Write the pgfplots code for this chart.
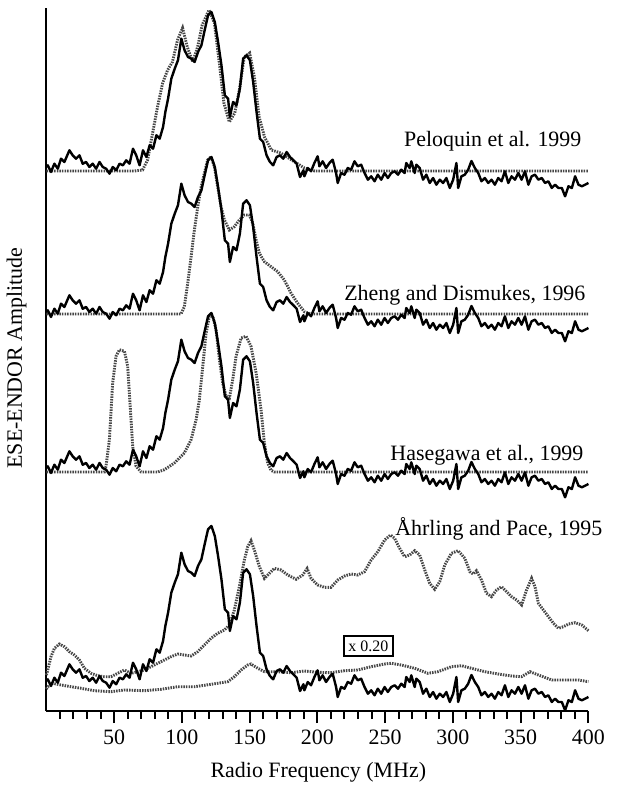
\documentclass[border=0pt]{standalone}
\usepackage{fontspec}
\setmainfont{Liberation Serif}
\usepackage{pgfplots}
\pgfplotsset{compat=1.18}
\usepackage{pgfplotstable}

% experimental ENDOR trace, height above the simulation baseline
\pgfplotstableread{
f h
0 4
1 5.7
3.4 -1
5.9 7.3
8.4 2.3
10.8 12.3
13.3 9
17 20.7
19.4 15.7
21.9 12.3
24.4 15.7
26.8 7.3
29.3 9
31.7 4
34.2 7.3
36.7 2.3
39.2 9
41.6 4
44.1 2.3
46.6 -2.7
49 4
51.5 0.7
54 7.3
56.5 5.7
58.9 10.7
61.4 7.3
63.9 22.3
66.3 15.7
68.8 5.7
71.3 20.7
73.8 14
76.2 25.7
78.7 22.3
81.2 35.7
83.6 32.3
86.1 44
87.8 59
89.8 72.3
92.2 92.3
94.7 102.3
97.1 110.7
99.6 132.3
102 120.7
104.5 114
107 112.3
109.4 109
111.9 119
114.4 125.7
116.8 140.7
119.3 155.7
121.8 159
124.3 149
126.7 129
129.2 105.7
131.7 75.7
134.1 72.3
135.4 54
137.8 69
140.3 65.7
142.8 82.3
145.2 112.3
147.7 115.7
150.2 110.7
152.6 89
155.1 59
157.6 32.3
160 29
162.5 15.7
165 9
167.4 5.7
169.9 14
172.4 15.7
174.8 12.3
177.3 19
179.8 14
182.3 10.7
184.7 7.3
187.2 -6
189.7 0.7
190.4 -5.3
192.9 3
195.3 -0.3
197.8 8
200.2 14.7
201.5 4.7
203.9 9.7
206.4 3
208.9 8
211.3 11.3
213.8 -2
215 -12
217.5 -2
220 -3.7
222.4 3
224.9 1.3
227.4 9.7
229.8 4.7
232.3 6.3
234.8 -2
237.3 -8.7
239.7 -5.3
242.2 -10.3
244.6 -3.7
247.1 -8.7
249.6 -2
252 -7
254.5 -2
257 -0.3
259.5 -3.7
261.9 1.3
264.4 -2
265.6 8
268.1 3
269.3 9.7
271.8 -2
273 6.3
275.5 3
278 -8.7
280.4 -3.7
282.9 -12
285.4 -7
287.8 -13.7
290.3 -8.7
292.8 -12
295.2 -7
297.7 -17
300.2 -8.7
302.6 8
303.9 -17
306.3 -5.3
308.8 -3.7
311.3 1.3
313.7 10
316.2 3
318.7 -2
321.1 -10.3
323.6 -7
326.1 -12
328.5 -8.7
331 -13.7
333.5 -7
335.9 -10.3
338.4 -0.3
340.9 -12
343.3 -5.3
345.8 -8.7
348.3 -2
350.7 -8.7
353.2 -0.3
355.7 -13.7
358.1 -5.3
360.6 -3.7
363.1 -8.7
365.6 -7
368 -12
370.5 -10.3
373 -17
375.4 -13.7
377.9 -17
380.4 -17
382.8 -25.3
385.3 -15.3
387.8 -17
390.2 -5.3
392.7 -13.7
395.2 -15.3
397.6 -13.7
400 -12
}\expdata

\begin{document}
\begin{tikzpicture}
\begin{axis}[
    scale only axis,
    width=271bp, height=351.5bp,
    xmin=0, xmax=400, ymin=0, ymax=703,
    axis x line*=bottom, axis y line*=left,
    axis line style={line width=1bp},
    xtick={50,100,...,400},
    minor xtick={10,20,...,390},
    ytick=\empty,
    tick align=outside,
    major tick length=6bp, minor tick length=4bp,
    every tick/.style={black, line width=1bp},
    ticklabel style={font=\fontsize{11}{13}\selectfont},
    /pgf/number format/assume math mode=true,
    xlabel={Radio Frequency (MHz)},
    xlabel style={at={(axis cs:200.7,-66)}, anchor=base, font=\fontsize{11}{13}\selectfont},
    ylabel={ESE-ENDOR Amplitude},
    ylabel style={at={(axis cs:-22,353)}, anchor=center, font=\fontsize{11}{13}\selectfont},
    clip=false,
    sim/.style={black!72, line width=1.45bp, dash pattern=on 0.75bp off 0.55bp},
    exp/.style={black, line width=1.2bp, line join=round},
]
\path (axis cs:-31,-80) rectangle (axis cs:423,711);

% Peloquin et al. 1999
\addplot[sim] coordinates {
(0,540) (65,540) (71,541) (74.7,551) (78.4,578) (82,604) (85.8,628) (89.5,641)
(93,649) (96.8,671) (100.5,683) (104,664) (108,649) (111.6,664) (115,686)
(120,701) (124,688) (128,644) (131,608) (135,589) (139,598) (142.4,621)
(146,654) (150,658) (153.5,634) (157,594) (161,574) (166,561) (173,558)
(181,551) (190.4,543) (198,540) (400,540)};
\addplot[exp] table[x=f, y expr=\thisrow{h}+540] {\expdata};

% Zheng and Dismukes 1996
\addplot[sim] coordinates {
(0,397) (99.4,397) (101.8,404.3) (104.3,427.7) (106.8,454.3) (109.2,481)
(111.7,504) (114.2,524) (116.6,537.7) (119,551) (121.5,554.3) (124,544.3)
(126.4,524.3) (128.9,504.3) (131.4,491) (135,481) (138.7,484.3) (142.4,491)
(146.1,496) (149.8,496) (152.3,487.7) (154.8,471) (157.2,457.7) (160.9,449.3)
(165.8,444.3) (170.7,439.3) (175.6,431) (180.6,417.7) (185.5,407.7)
(190.4,399.3) (195.3,397) (400,397)};
\addplot[exp] table[x=f, y expr=\thisrow{h}+395] {\expdata};

% Hasegawa et al. 1999
\addplot[sim] coordinates {
(0,239) (42.8,239) (44,244.7) (46.5,271.3) (48.9,328) (51.4,354.7) (53.9,361.3)
(57.6,359.7) (60,344.7) (62,301.3) (63.7,264.7) (66.2,244.7) (69.9,239)
(82.2,239) (87.1,241.3) (94.5,248) (101.8,258) (106.8,271.3) (110.5,291.3)
(112.9,311.3) (115.4,344.7) (117.9,378) (120.3,394.7) (122.8,394.7)
(125.2,381.3) (127.7,351.3) (130.1,328) (132.6,314.7) (135.1,313) (137.5,331.3)
(140,354.7) (143.7,373) (147.4,374.7) (151,364.7) (154.8,338) (158.4,301.3)
(160.9,268) (163.3,248) (165.8,240.7) (168.3,239) (400,239)};
\addplot[exp] table[x=f, y expr=\thisrow{h}+239] {\expdata};

% Ahrling and Pace 1995
\addplot[sim] coordinates {
(0,36) (1,41) (3.4,54.3) (5.9,62.7) (9.6,67) (13.3,64.3) (17,59.3) (20.7,56)
(24.4,51) (28,42.7) (33,37.7) (37.9,35.3) (42.8,34.3) (47.7,34.3) (52.6,37.7)
(57.6,41) (62.5,37.7) (67.4,39.3) (72.3,41) (77.2,44.3) (82.2,47.7) (87.1,51)
(92,54.3) (97,57) (101.8,56) (106.8,55) (111.7,59.3) (116.6,66) (121.5,72.7)
(126.4,77.7) (131.4,81) (135.1,86) (138.7,101) (142.4,124.3) (146.1,151)
(148.6,164.3) (151,170.3) (153.5,161) (157.2,144.3) (160.9,132.7) (164.6,137.7)
(168.3,142.7) (173.2,141) (178.1,136) (184.3,131.7) (189.2,136) (192.4,142.5)
(195.3,132.7) (200.2,126) (205.2,123.7) (210.1,123.7) (215,131) (220,135)
(224.9,137) (229.8,136) (234.8,139.3) (239.7,151) (244.6,159.3) (249.6,171)
(254,176) (257,172.7) (260.7,162.7) (264.4,154.3) (268.1,156) (271.8,160.3)
(275.5,156) (279.2,141) (282.9,127.7) (286.6,121.7) (290.3,129.3) (294,146)
(298.9,157.7) (303.9,160.3) (308.8,152.7) (312.5,139.3) (315,137) (317.4,140.3)
(321.1,131) (324.8,117.7) (328.5,114.3) (332.2,121) (335.9,124.3) (339.6,119.3)
(343.3,114.3) (347,111) (350.7,106) (354.4,121) (358.1,132.7) (360.6,124.3)
(363.1,107.7) (366.8,101) (370.5,94.3) (374.2,87.7) (377.9,82.7) (381.6,84.3)
(385.3,87) (390.2,88.3) (395.2,86) (400,80.3)};
\addplot[sim] coordinates {
(0,22) (1,24.3) (4.7,27.7) (10.8,26) (18.2,24.3) (25.6,22.7) (35.4,20.3)
(47.7,19.3) (57.6,21) (72.3,20.3) (84.6,21.7) (97,24.3) (109.4,24.3)
(121.5,26.7) (133.9,29.3) (138.7,34.3) (143.7,41) (148.6,46) (151,47)
(156,42.7) (160.9,39.3) (170.7,39.3) (180.6,38.3) (190.4,40) (200.2,38.7)
(210,38.3) (220,40.3) (229.8,41) (239.7,44.3) (249.6,47) (254.5,47.7)
(261.9,46) (271.8,42.7) (281.6,37.7) (289,39.3) (298.9,44.3) (306.3,45.3)
(313.7,42.7) (323.6,39.3) (333.5,37) (343.3,35) (350.7,34.3) (356.9,39.3)
(363.1,36) (373,31) (382.8,31) (392.7,31) (400,29.3)};
\addplot[exp] table[x=f, y expr=\thisrow{h}+26] {\expdata};

\node[anchor=base east, font=\fontsize{11}{13}\selectfont] at (axis cs:400,564) {Peloquin et al. 1999};
\node[anchor=base east, font=\fontsize{11}{13}\selectfont] at (axis cs:403,410) {Zheng and Dismukes, 1996};
\node[anchor=base east, font=\fontsize{11}{13}\selectfont] at (axis cs:401.5,250) {Hasegawa et al., 1999};
\node[anchor=base east, font=\fontsize{11}{13}\selectfont] at (axis cs:415.5,176) {Åhrling and Pace, 1995};
\node[draw, line width=0.9bp, fill=white, inner sep=2.4bp, font=\fontsize{8}{9}\selectfont] at (axis cs:237.6,65) {x 0.20};
\end{axis}
\end{tikzpicture}
\end{document}
